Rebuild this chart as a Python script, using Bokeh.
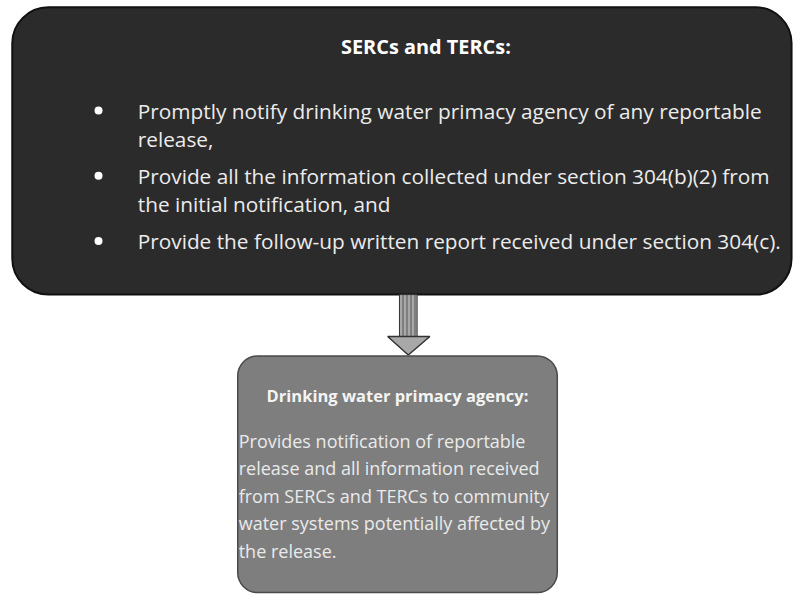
from bokeh.plotting import figure
from bokeh.models import Range1d
from bokeh.core.properties import value
from bokeh.embed import file_html
from bokeh.resources import INLINE

# ---- content ----
top_title = "SERCs and TERCs:"
top_items = [
    ["Promptly notify drinking water primacy agency of any reportable", "release,"],
    ["Provide all the information collected under section 304(b)(2) from", "the initial notification, and"],
    ["Provide the follow-up written report received under section 304(c)."],
]
bottom_title = "Drinking water primacy agency:"
bottom_lines = [
    "Provides notification of reportable",
    "release and all information received",
    "from SERCs and TERCs to community",
    "water systems potentially affected by",
    "the release.",
]

W, H = 794, 596
RW, RH = 810, 612
S = W / RW


def fs(px):
    return f"{px * S:.1f}px"


p = figure(width=W, height=H, output_backend="svg", toolbar_location=None,
           x_range=Range1d(0, RW), y_range=Range1d(RH, 0), min_border=0)
p.axis.visible = False
p.grid.visible = False
p.outline_line_color = None
p.background_fill_color = "white"
p.border_fill_color = "white"

FONT = value("Open Sans")

# top box
p.quad(left=[12], right=[807], top=[7], bottom=[302], fill_color="#2b2b2b",
       line_color="#111111", line_width=2, border_radius=36)

# title
p.text(x=[434], y=[47], text=[top_title], text_font=FONT, text_font_size=fs(20.3),
       text_font_style="bold", text_color="white", text_align="center", text_baseline="middle")

# bullet items
xs, ys, ts, bx, by = [], [], [], [], []
y = 113
for i, item in enumerate(top_items):
    for j, line in enumerate(item):
        if j == 0:
            bx.append(100); by.append(y)
        xs.append(140); ys.append(y); ts.append(line)
        y += 29
    y += 9
p.text(x=xs, y=ys, text=ts, text_font=FONT, text_font_size=fs(21.2),
       text_color="#ececec", text_align="left", text_baseline="middle")
p.scatter(x=bx, y=by, size=8, fill_color="white", line_color=None)

# arrow
sx0, sx1, tipx = 407, 425, 416
p.quad(left=[sx0], right=[sx1], top=[302], bottom=[346], fill_color="#a8a8a8",
       line_color="#333333", line_width=1, hatch_pattern="vertical_line",
       hatch_color="#555555", hatch_scale=4, hatch_weight=1)
p.patch(x=[395, 438, tipx], y=[345, 345, 364], fill_color="#a8a8a8",
        line_color="#333333", line_width=1.5)

# bottom box
p.quad(left=[242], right=[568], top=[365], bottom=[608], fill_color="#7e7e7e",
       line_color="#4a4a4a", line_width=1.5, border_radius=20)
p.text(x=[405], y=[406], text=[bottom_title], text_font=FONT, text_font_size=fs(16.8),
       text_font_style="bold", text_color="#f4f4f4", text_align="center", text_baseline="middle")
p.text(x=[243] * len(bottom_lines), y=[452 + 28.2 * i for i in range(len(bottom_lines))],
       text=bottom_lines, text_font=FONT, text_font_size=fs(18.4),
       text_color="#eaeaea", text_align="left", text_baseline="middle")

open("out.html", "w").write(file_html(p, INLINE))
